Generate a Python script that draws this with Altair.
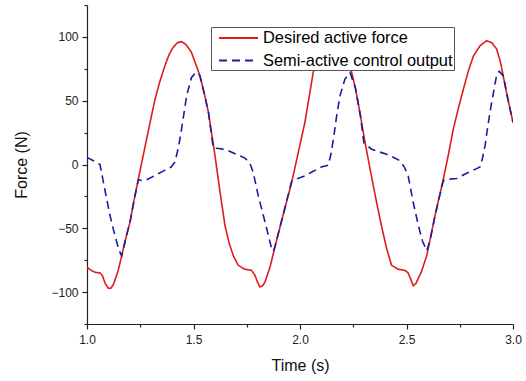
import altair as alt
import pandas as pd

# Desired active force (red, solid)
red_t = [1.000, 1.020, 1.038, 1.061, 1.072, 1.085, 1.100, 1.112, 1.124, 1.145,
         1.163, 1.182, 1.202, 1.221, 1.241, 1.260, 1.280, 1.300, 1.319, 1.342,
         1.366, 1.385, 1.405, 1.425, 1.444, 1.465, 1.490, 1.510, 1.530, 1.550,
         1.570, 1.600, 1.625, 1.648, 1.668, 1.687, 1.710, 1.740, 1.773, 1.789,
         1.800, 1.812, 1.825, 1.836, 1.860, 1.883, 1.920, 1.961, 1.990, 2.023,
         2.045, 2.070, 2.100, 2.130, 2.160, 2.190, 2.215, 2.235, 2.260, 2.283,
         2.305, 2.333, 2.360, 2.385, 2.407, 2.430, 2.460, 2.493, 2.508, 2.520,
         2.532, 2.545, 2.570, 2.595, 2.634, 2.673, 2.697, 2.720, 2.745, 2.767,
         2.790, 2.814, 2.845, 2.876, 2.900, 2.923, 2.940, 2.954, 2.975, 3.000]
red_f = [-80.5, -83, -84.5, -85, -87, -93, -97, -97, -94, -84,
         -71.5, -58, -45, -28, -11.4, 4, 20, 36, 51, 65,
         77.5, 86, 92, 95.5, 96.3, 94, 88, 79, 69.6, 56,
         41, 8, -22, -48, -62, -71.5, -79, -82, -83, -87,
         -92, -96, -95, -92, -80, -64, -40, -14, 8, 33,
         55, 80, 90, 95, 96.5, 92, 84, 77.5, 60, 39,
         17.6, -7, -30, -50, -66, -79, -82, -83, -85, -90,
         -95, -93, -84, -71.5, -40, -11.4, 8, 28, 45, 59,
         73, 85, 93, 97, 95.5, 90.6, 81, 69.6, 52, 33]

# Semi-active control output (blue, dashed)
blue_t = [1.000, 1.030, 1.061, 1.075, 1.090, 1.108, 1.130, 1.150, 1.158, 1.163,
          1.182, 1.202, 1.221, 1.241, 1.255, 1.280, 1.320, 1.360, 1.395, 1.413,
          1.430, 1.444, 1.468, 1.490, 1.505, 1.520, 1.530, 1.550, 1.570, 1.593,
          1.620, 1.656, 1.700, 1.742, 1.765, 1.780, 1.804, 1.825, 1.844, 1.867,
          1.875, 1.883, 1.920, 1.961, 1.990, 2.023, 2.060, 2.100, 2.133, 2.145,
          2.157, 2.172, 2.188, 2.211, 2.235, 2.260, 2.283, 2.300, 2.336, 2.370,
          2.407, 2.440, 2.469, 2.490, 2.508, 2.532, 2.556, 2.575, 2.595, 2.610,
          2.634, 2.655, 2.673, 2.700, 2.736, 2.780, 2.820, 2.845, 2.857, 2.869,
          2.880, 2.892, 2.910, 2.923, 2.935, 2.954, 2.975, 3.000]
blue_f = [5.6, 3, 0, -12, -25, -40, -55, -67, -70, -71.5,
          -58, -45, -28, -12, -12.5, -12, -8.5, -5, -2, 2,
          14, 28, 54, 68, 71, 72, 69.6, 56, 41, 13,
          12.5, 11.4, 8, 5, 1, -6, -24.5, -38, -50.6, -66,
          -68, -64, -40, -13, -11, -9, -5.5, -2, -0.5, 8,
          20, 38, 54, 67, 72, 60, 39, 17, 12, 10,
          8, 5.5, 3, -2, -9, -30, -48, -60, -67.6, -60,
          -40, -25, -12.5, -11.5, -11, -7, -4, -2, 5, 15,
          28, 41, 58, 70, 73, 69.6, 52, 33]

series_names = ["Desired active force", "Semi-active control output"]
series_colors = ["#dd1c1c", "#1c1ca0"]

x_ticks = [1.0, 1.25, 1.5, 1.75, 2.0, 2.25, 2.5, 2.75, 3.0]
y_ticks = [-125, -100, -75, -50, -25, 0, 25, 50, 75, 100, 125]

df = pd.concat([
    pd.DataFrame({"t": red_t, "f": red_f, "series": series_names[0], "order": range(len(red_t))}),
    pd.DataFrame({"t": blue_t, "f": blue_f, "series": series_names[1], "order": range(len(blue_t))}),
])

FONT = "Liberation Sans"

legend_common = dict(orient="none", legendX=124, legendY=22,
                     symbolType="M-0.33,0H4", symbolSize=324,
                     symbolStrokeWidth=2, labelFontSize=16.4,
                     labelFont=FONT, labelColor="#000", labelLimit=400,
                     strokeColor="#555", padding=1,
                     rowPadding=3.6, labelOffset=31,
                     fillColor="white")

chart = alt.Chart(df).mark_line(strokeWidth=1.6, clip=True).encode(
    x=alt.X("t:Q", title="Time (s)",
            scale=alt.Scale(domain=[1.0, 3.0], nice=False, zero=False),
            axis=alt.Axis(values=x_ticks, grid=False, labelFlush=False,
                          labelExpr="abs(datum.value*2 - round(datum.value*2)) < 0.001 ? format(datum.value, '.1f') : ''",
                          tickSize={"condition": {"test": "abs(datum.value*2 - round(datum.value*2)) < 0.001", "value": 5}, "value": 3},
                          labelPadding=5, titlePadding=12)),
    y=alt.Y("f:Q", title="Force (N)",
            scale=alt.Scale(domain=[-125, 125], nice=False, zero=False),
            axis=alt.Axis(values=y_ticks, grid=False, labelFlush=False,
                          labelExpr="datum.value % 50 === 0 ? format(datum.value, 'd') : ''",
                          tickSize={"condition": {"test": "datum.value % 50 === 0", "value": 5}, "value": 3},
                          labelPadding=4, titlePadding=21)),
    color=alt.Color("series:N", title=None,
                    scale=alt.Scale(domain=series_names, range=series_colors),
                    legend=alt.Legend(**legend_common)),
    strokeDash=alt.StrokeDash("series:N", title=None,
                              scale=alt.Scale(domain=series_names, range=[[1, 0], [8, 5]]),
                              legend=alt.Legend(**legend_common)),
    order="order:Q",
).properties(
    width=426, height=319,
    padding={"left": 87, "top": 5, "right": 13, "bottom": 57},
    autosize=alt.AutoSizeParams(type="none"),
).configure_view(stroke=None).configure_axis(
    domainColor="#222", tickColor="#222", domainWidth=1.2, tickWidth=1.2,
    labelFont=FONT, labelFontSize=12, labelColor="#222",
    titleFont=FONT, titleFontSize=16, titleFontWeight="normal", titleColor="#111",
)

chart.save("out.html", embed_options={"renderer": "svg", "actions": False})
